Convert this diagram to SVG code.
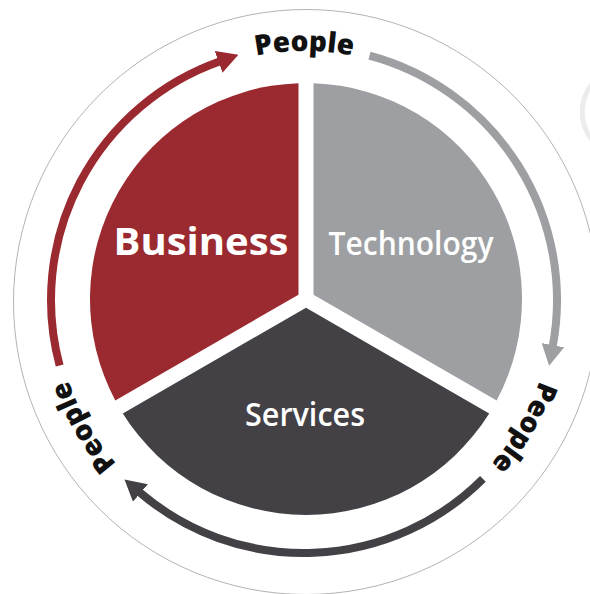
<svg xmlns="http://www.w3.org/2000/svg" width="590" height="594" viewBox="0 0 590 594">
  <style>
    .people { font-family: "Open Sans", "Liberation Sans", sans-serif; font-weight: 800; font-size: 28px; fill: #111; }
    .lbl { font-family: "Open Sans", "Liberation Sans", sans-serif; fill: #ffffff; text-anchor: middle; }
    .arc { fill: none; stroke-width: 8; }
  </style>
  <defs>
    <path id="ring" d="M 304 549 A 249 249 0 0 1 304 51 A 249 249 0 0 1 304 549"/>
    <marker id="ah-red" markerUnits="userSpaceOnUse" markerWidth="21" markerHeight="23" viewBox="0 0 21 23" refX="1" refY="11.5" orient="auto">
      <path d="M0,0 L21,11.5 L0,23 z" fill="#9b2a30"/>
    </marker>
    <marker id="ah-gray" markerUnits="userSpaceOnUse" markerWidth="21" markerHeight="23" viewBox="0 0 21 23" refX="1" refY="11.5" orient="auto">
      <path d="M0,0 L21,11.5 L0,23 z" fill="#9d9fa2"/>
    </marker>
    <marker id="ah-dark" markerUnits="userSpaceOnUse" markerWidth="21" markerHeight="23" viewBox="0 0 21 23" refX="1" refY="11.5" orient="auto">
      <path d="M0,0 L21,11.5 L0,23 z" fill="#434146"/>
    </marker>
  </defs>
  <rect x="0" y="0" width="590" height="594" fill="#ffffff"/>
  <circle cx="306" cy="302" r="292.5" fill="none" stroke="#a0a0a0" stroke-width="0.8"/>
  <path d="M 592 84 A 45 45 0 0 0 592 140" fill="none" stroke="#ececec" stroke-width="5"/>

  <g id="business">
    <path d="M 298.5 294.67 L 298.5 83.13 A 216 216 0 0 0 115.3 400.44 Z" fill="#9b2a30"/>
    <text class="lbl" x="201" y="255" font-size="37" font-weight="700" textLength="175" lengthAdjust="spacingAndGlyphs">Business</text>
  </g>
  <g id="technology">
    <path d="M 313.5 294.67 L 313.5 83.13 A 216 216 0 0 1 496.7 400.44 Z" fill="#9d9fa2"/>
    <text class="lbl" x="411" y="255" font-size="32" font-weight="600" textLength="165" lengthAdjust="spacingAndGlyphs">Technology</text>
  </g>
  <g id="services">
    <path d="M 306 307.66 L 489.2 413.4 A 216 216 0 0 1 122.8 413.4 Z" fill="#434146"/>
    <text class="lbl" x="305" y="425.5" font-size="32" font-weight="600" textLength="120" lengthAdjust="spacingAndGlyphs">Services</text>
  </g>

  <g id="connectors">
    <path class="arc" d="M 59.62 365.48 A 253 253 0 0 1 219.55 61.51" stroke="#9b2a30" marker-end="url(#ah-red)"/>
    <path class="arc" d="M 369.48 55.62 A 253 253 0 0 1 552.76 346.11" stroke="#9d9fa2" marker-end="url(#ah-gray)"/>
    <path class="arc" d="M 482.9 478.9 A 253 253 0 0 1 139.69 492.38" stroke="#434146" marker-end="url(#ah-dark)"/>
  </g>

  <g id="people-top">
    <text class="people" text-anchor="middle"><textPath href="#ring" startOffset="782.3">People</textPath></text>
  </g>
  <g id="people-right">
    <text class="people" text-anchor="middle"><textPath href="#ring" startOffset="1303.8">People</textPath></text>
  </g>
  <g id="people-left">
    <text class="people" text-anchor="middle"><textPath href="#ring" startOffset="260.8">People</textPath></text>
  </g>
</svg>
